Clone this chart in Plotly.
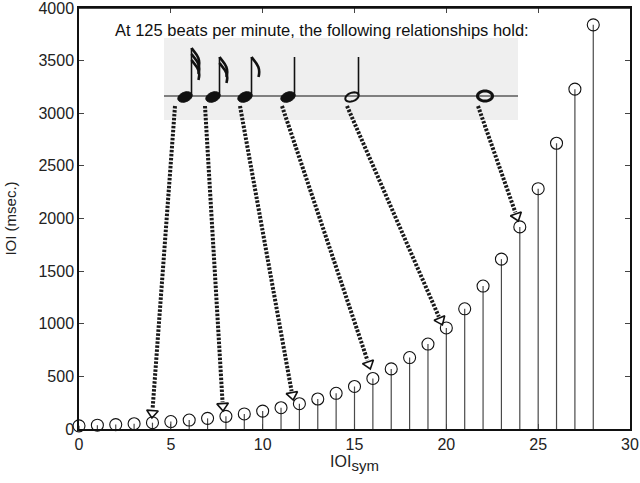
import math
import plotly.graph_objects as go

# IOI_sym index and inter-onset interval in msec
ioi_sym = [0, 1, 2, 3, 4, 5, 6, 7, 8, 9, 10, 11, 12, 13, 14,
           15, 16, 17, 18, 19, 20, 21, 22, 23, 24, 25, 26, 27, 28]
ioi_ms = [30, 36, 42, 50, 60, 71, 85, 101, 120, 143, 170, 202, 240, 285, 339,
          404, 480, 571, 679, 807, 960, 1142, 1358, 1614, 1920, 2283, 2715, 3229, 3840]

x_ticks = [0, 5, 10, 15, 20, 25, 30]
y_ticks = [0, 500, 1000, 1500, 2000, 2500, 3000, 3500, 4000]

# plot area in pixels (used only to place the drawn notes / arrows)
L, R, T, B = 79, 630, 8, 429


def dx(px):
    return (px - L) / (R - L) * 30


def dy(py):
    return (B - py) / (B - T) * 4000


fig = go.Figure()

# stems
sx, sy = [], []
for n, v in zip(ioi_sym, ioi_ms):
    sx += [n, n, None]
    sy += [0, v, None]
fig.add_trace(go.Scatter(x=sx, y=sy, mode="lines",
                         line=dict(color="#4a4a4a", width=1.2),
                         hoverinfo="skip", showlegend=False))
# circles
fig.add_trace(go.Scatter(x=ioi_sym, y=ioi_ms, mode="markers",
                         marker=dict(symbol="circle-open", size=12,
                                     color="#111", line=dict(width=1.1)),
                         cliponaxis=False, showlegend=False))

shapes = []

# grey panel + staff line
shapes.append(dict(type="rect", xref="x", yref="y", x0=dx(164), x1=dx(518),
                   y0=dy(120), y1=dy(38), fillcolor="#efefef",
                   line=dict(width=0), layer="below"))
shapes.append(dict(type="line", xref="x", yref="y", x0=dx(164), x1=dx(518),
                   y0=dy(96), y1=dy(96), line=dict(color="#111", width=1.2)))


def ellipse(cx, cy, rx, ry, ang):
    a = math.radians(ang)
    pts = []
    for i in range(33):
        t = 2 * math.pi * i / 32
        ex, ey = rx * math.cos(t), ry * math.sin(t)
        px = cx + ex * math.cos(a) - ey * math.sin(a)
        py = cy + ex * math.sin(a) + ey * math.cos(a)
        pts.append(f"{dx(px):.4f},{dy(py):.2f}")
    return "M " + " L ".join(pts) + " Z"


# notes: (centre x, flags, filled, has stem, stem top)
notes = [(185, 3, True, True, 48), (213, 2, True, True, 57),
         (245, 1, True, True, 57), (288, 0, True, True, 57),
         (352, 0, False, True, 57), (485, 0, False, False, 0)]
for cx, nflag, filled, stem, top in notes:
    cy = 97
    if filled:
        shapes.append(dict(type="path", xref="x", yref="y",
                           path=ellipse(cx, cy, 7.5, 4.8, -22),
                           fillcolor="#111", line=dict(color="#111", width=1)))
    elif stem:
        shapes.append(dict(type="path", xref="x", yref="y",
                           path=ellipse(cx, cy, 7, 4.2, -22),
                           fillcolor="rgba(0,0,0,0)", line=dict(color="#111", width=2)))
    else:
        shapes.append(dict(type="path", xref="x", yref="y",
                           path=ellipse(cx, cy - 1, 7.5, 5, 0),
                           fillcolor="rgba(0,0,0,0)", line=dict(color="#111", width=3)))
    if stem:
        stx = cx + 6.5
        shapes.append(dict(type="line", xref="x", yref="y", x0=dx(stx), x1=dx(stx),
                           y0=dy(cy - 2), y1=dy(top), line=dict(color="#111", width=1.6)))
        for k in range(nflag):
            y0 = top + 6 * k
            p = (f"M {dx(stx):.4f},{dy(y0):.2f} "
                 f"C {dx(stx + 3):.4f},{dy(y0 + 5):.2f} {dx(stx + 10):.4f},{dy(y0 + 9):.2f} "
                 f"{dx(stx + 7):.4f},{dy(y0 + 20):.2f}")
            shapes.append(dict(type="path", xref="x", yref="y", path=p,
                               line=dict(color="#111", width=2.6)))

# dotted arrows from notes to the matching stems
arrow_start = [(175, 106), (205, 106), (240, 106), (282, 106), (347, 106), (478, 106)]
arrow_tip = [(152, 417), (223, 410), (293, 399), (370, 368), (442, 324), (518, 220)]
tx, ty, ta = [], [], []
for (x0, y0), (x1, y1) in zip(arrow_start, arrow_tip):
    ln = math.hypot(x1 - x0, y1 - y0)
    ux, uy = (x1 - x0) / ln, (y1 - y0) / ln
    shapes.append(dict(type="line", xref="x", yref="y", x0=dx(x0), y0=dy(y0),
                       x1=dx(x1 - 8 * ux), y1=dy(y1 - 8 * uy),
                       line=dict(color="#1a1a1a", width=4, dash="2.5px,1.5px")))
    tx.append(dx(x1 - 4 * ux))
    ty.append(dy(y1 - 4 * uy))
    ta.append(math.degrees(math.atan2(uy, ux)) - 90)
fig.add_trace(go.Scatter(x=tx, y=ty, mode="markers",
                         marker=dict(symbol="triangle-down-open", size=10, angle=ta,
                                     color="#111", line=dict(width=1.6)),
                         hoverinfo="skip", showlegend=False))

# top border drawn explicitly so it is not lost at the plot edge
shapes.append(dict(type="line", xref="x domain", yref="y domain", x0=0, x1=1, y0=1, y1=1,
                   line=dict(color="#111", width=1.5)))

fig.update_layout(
    width=640, height=483,
    margin=dict(l=L, r=640 - R, t=T, b=483 - B, autoexpand=False),
    plot_bgcolor="white", paper_bgcolor="white",
    font=dict(family="Liberation Sans, Arial", size=16, color="#222"),
    shapes=shapes,
    annotations=[dict(text="At 125 beats per minute, the following relationships hold:",
                      x=(322 - L) / (R - L), y=(B - 30) / (B - T),
                      xref="x domain", yref="y domain", showarrow=False,
                      xanchor="center", yanchor="middle",
                      font=dict(size=16.5, color="#111"))],
)

fig.update_xaxes(range=[0, 30], tickvals=x_ticks, ticks="inside", ticklen=5,
                 showline=True, linecolor="#111", linewidth=1.5, mirror="allticks",
                 showgrid=False, zeroline=False, automargin=False,
                 ticklabeloverflow="allow",
                 title=dict(text='IOI<sub><span style="font-size:15px">sym</span></sub>',
                            standoff=4, font=dict(size=16)))
fig.update_yaxes(range=[0, 4000], tickvals=y_ticks, ticks="inside", ticklen=5,
                 showline=True, linecolor="#111", linewidth=1.5, mirror="allticks",
                 showgrid=False, zeroline=False, automargin=False,
                 ticklabeloverflow="allow",
                 title=dict(text="IOI (msec.)", standoff=18, font=dict(size=15)))

# drop the default page margin so the figure sits at the window's corner
fig.write_html("out.html", config={"displayModeBar": False},
               post_script="document.body.style.margin='0';")
